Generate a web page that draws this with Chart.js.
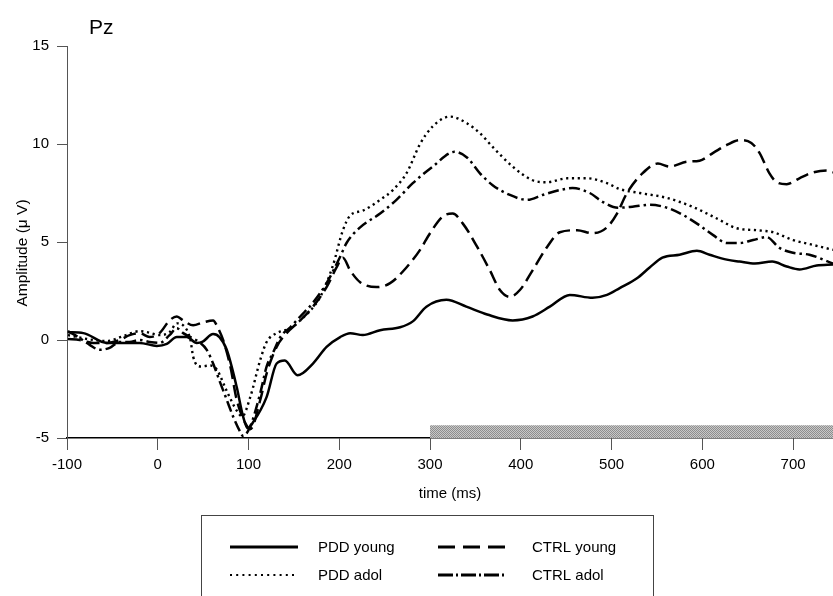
<!DOCTYPE html>
<html><head><meta charset="utf-8">
<script src="https://cdn.jsdelivr.net/npm/chart.js@4.4.0/dist/chart.umd.min.js"></script>
<style>html,body{margin:0;padding:0;background:#fff;overflow:hidden}#wrap{position:relative;width:833px;height:596px}</style>
</head><body><div id="wrap"><canvas id="c" width="833" height="596"></canvas></div>
<script>
// ---- text ----
const chartTitle = 'Pz';
const xTitle = 'time (ms)';
const yTitle = 'Amplitude (\u03bc V)';
const seriesNames = ['PDD young', 'PDD adol', 'CTRL young', 'CTRL adol'];
const xTickValues = [-100, 0, 100, 200, 300, 400, 500, 600, 700];
const yTickValues = [-5, 0, 5, 10, 15];

// ---- data (time in ms, amplitude in µV) ----
const pddYoungT = [-99,-82,-56,-38,-20,-1,10,21,32,43,49,61,68,76,87,94,99,105,120,131,140,154,171,186,201,212,226,245,267,281,296,318,340,363,391,413,432,454,479,495,509,528,542,556,575,594,608,627,641,658,677,693,707,726,744];
const pddYoungV = [0.4,0.35,-0.15,-0.15,-0.15,-0.3,-0.2,0.15,0.15,-0.15,-0.1,0.3,0.15,-0.5,-2.4,-3.9,-4.5,-4.2,-2.9,-1.2,-1.05,-1.8,-1.2,-0.35,0.15,0.35,0.25,0.5,0.65,0.95,1.7,2.05,1.7,1.3,1.0,1.2,1.7,2.3,2.15,2.3,2.65,3.15,3.7,4.2,4.35,4.55,4.35,4.1,4.0,3.9,4.0,3.75,3.6,3.8,3.85];

const pddAdolT = [-99,-71,-56,-38,-20,-12,2,13,21,28,36,39,47,58,65,76,87,93,102,113,120,131,146,157,179,193,204,212,226,245,259,274,289,303,322,341,355,369,391,413,429,451,473,495,509,531,561,589,616,638,660,678,700,722,744];
const pddAdolV = [0.25,0.0,-0.05,0.2,0.45,0.4,0.25,0.4,0.85,0.75,0.0,-0.85,-1.35,-1.3,-1.5,-2.6,-3.6,-3.9,-2.9,-1.0,-0.1,0.35,0.6,1.0,2.2,3.8,5.6,6.35,6.6,7.15,7.65,8.5,10.0,10.9,11.4,11.05,10.55,9.85,8.85,8.15,8.05,8.25,8.25,8.0,7.7,7.5,7.25,6.8,6.2,5.7,5.6,5.5,5.1,4.85,4.6];

const ctrlYoungT = [-99,-86,-71,-56,-42,-31,-20,-9,2,13,21,28,39,50,61,66,72,80,87,96,102,113,120,131,142,157,171,186,197,204,212,223,241,256,274,289,300,314,325,336,352,366,377,388,399,413,429,443,462,479,495,506,517,534,551,564,583,597,612,627,641,654,663,674,682,693,707,722,737,744];
const ctrlYoungV = [0.05,0.0,-0.15,-0.15,0.0,0.25,0.35,0.15,0.35,1.0,1.2,1.0,0.75,0.9,1.0,0.65,0.0,-1.35,-3.05,-4.2,-4.55,-3.05,-1.7,-0.35,0.35,1.0,1.7,2.7,3.7,4.2,3.55,2.95,2.7,2.9,3.7,4.6,5.45,6.3,6.45,5.95,4.75,3.55,2.55,2.2,2.55,3.55,4.75,5.5,5.6,5.45,5.75,6.45,7.5,8.5,9.0,8.85,9.1,9.15,9.55,9.95,10.2,10.05,9.55,8.5,8.05,7.95,8.25,8.55,8.65,8.55];

const ctrlAdolT = [-99,-86,-75,-64,-53,-42,-31,-20,-9,2,13,21,28,36,47,54,61,69,76,83,91,94,102,113,120,127,135,146,157,171,186,201,208,223,245,263,281,303,327,341,355,369,388,407,424,443,457,476,490,507,523,542,561,578,597,612,627,641,656,671,685,700,718,744];
const ctrlAdolV = [0.45,0.1,-0.25,-0.5,-0.4,-0.1,-0.1,0.0,-0.1,-0.15,0.25,0.6,0.35,0.15,-0.15,-0.5,-1.2,-2.2,-3.05,-3.9,-4.7,-4.9,-4.4,-2.7,-1.35,-0.65,0.15,0.65,1.2,1.9,2.9,4.25,4.95,5.75,6.45,7.15,8.0,8.85,9.6,9.3,8.5,7.9,7.4,7.15,7.4,7.65,7.75,7.5,7.05,6.75,6.8,6.9,6.75,6.4,5.85,5.35,4.95,4.95,5.1,5.25,4.7,4.45,4.35,3.9];

// significance window bar (ms) and its top level (µV)
const sigWindowT = [300, 744];
const sigWindowV = [-4.35, -4.35];

const xMin = -100, xMax = 744, yMin = -5, yMax = 15;

const FF = "'Liberation Sans', Arial, sans-serif";

function pts(T, V){ return T.map((t, i) => ({x: t, y: V[i]})); }

// stipple pattern for significance bar
function makePattern(){
  const p = document.createElement('canvas'); p.width = 2; p.height = 2;
  const g = p.getContext('2d');
  g.fillStyle = '#c8c8c8'; g.fillRect(0,0,2,2);
  g.fillStyle = '#8e8e8e'; g.fillRect(0,0,1,1); g.fillRect(1,1,1,1);
  return document.getElementById('c').getContext('2d').createPattern(p, 'repeat');
}

const styles = [
  {dash: [], width: 2.5, legendDash: [], legendWidth: 3},
  {dash: [2.2, 3.6], width: 2.4, legendDash: [2, 4.2], legendWidth: 2},
  {dash: [13, 6], width: 2.5, legendDash: [17, 8], legendWidth: 3},
  {dash: [11, 4, 2.5, 4], width: 2.5, legendDash: [15, 3, 2, 3], legendWidth: 3}
];
const seriesData = [pts(pddYoungT, pddYoungV), pts(pddAdolT, pddAdolV), pts(ctrlYoungT, ctrlYoungV), pts(ctrlAdolT, ctrlAdolV)];

const overlay = {
  id: 'overlay',
  afterDraw(chart){
    const ctx = chart.ctx;
    ctx.save();
    ctx.fillStyle = '#000';
    // title
    ctx.font = '21px ' + FF;
    ctx.textBaseline = 'alphabetic'; ctx.textAlign = 'left';
    ctx.fillText(chartTitle, 89, 34);
    // y axis title
    ctx.save();
    ctx.translate(23, 253);
    ctx.rotate(-Math.PI / 2);
    ctx.font = '15.5px ' + FF;
    ctx.textAlign = 'center'; ctx.textBaseline = 'middle';
    ctx.fillText(yTitle, 0, 0);
    ctx.restore();
    // legend box
    ctx.strokeStyle = '#444'; ctx.lineWidth = 1; ctx.setLineDash([]);
    ctx.strokeRect(201.5, 515.5, 452, 100);
    const cols = [{x0: 230, x1: 298, tx: 318}, {x0: 438, x1: 507, tx: 532}];
    const rows = [547, 575];
    const order = [[0,0,0],[2,1,0],[1,0,1],[3,1,1]]; // series, col, row
    ctx.font = '15px ' + FF;
    ctx.textBaseline = 'middle'; ctx.textAlign = 'left';
    order.forEach(([s, c, r]) => {
      const st = styles[s];
      ctx.beginPath();
      ctx.setLineDash(st.legendDash);
      ctx.lineWidth = st.legendWidth;
      ctx.strokeStyle = '#000';
      ctx.lineCap = 'butt';
      ctx.moveTo(cols[c].x0, rows[r]); ctx.lineTo(cols[c].x1, rows[r]);
      ctx.stroke();
      ctx.setLineDash([]);
      ctx.fillText(seriesNames[s], cols[c].tx, rows[r] + 1);
    });
    ctx.restore();
  }
};

const datasets = [{
  label: 'window', data: pts(sigWindowT, sigWindowV), borderWidth: 0, pointRadius: 0,
  fill: 'start', backgroundColor: makePattern(), borderColor: 'rgba(0,0,0,0)', order: 10
}].concat(seriesNames.map((n, i) => ({
  label: n, data: seriesData[i], borderColor: '#000', borderWidth: styles[i].width,
  borderDash: styles[i].dash, pointRadius: 0, fill: false, cubicInterpolationMode: 'monotone',
  borderCapStyle: 'butt', borderJoinStyle: 'round', order: i
})));

new Chart(document.getElementById('c'), {
  type: 'line',
  data: {datasets},
  options: {
    responsive: false, animation: false, devicePixelRatio: 1,
    layout: {padding: {top: 46, left: 0, right: 0, bottom: 0}},
    plugins: {legend: {display: false}, title: {display: false}, tooltip: {enabled: false}},
    scales: {
      x: {
        type: 'linear', position: 'bottom', min: xMin, max: xMax,
        afterBuildTicks: s => { s.ticks = xTickValues.map(v => ({value: v})); },
        afterFit: s => { s.height = 158; },
        ticks: {font: {family: FF, size: 15}, color: '#000', padding: 6, maxRotation: 0, includeBounds: false},
        grid: {drawOnChartArea: false, drawTicks: true, tickLength: 12, color: '#555', lineWidth: 1},
        border: {display: true, color: '#000', width: 1.5},
        title: {display: true, text: xTitle, color: '#000', font: {family: FF, size: 15}, padding: {top: 0, bottom: 93}}
      },
      y: {
        type: 'linear', min: yMin, max: yMax,
        afterBuildTicks: s => { s.ticks = yTickValues.map(v => ({value: v})); },
        afterFit: s => { s.width = 67; },
        ticks: {font: {family: FF, size: 15}, color: '#000', padding: 8},
        grid: {drawOnChartArea: false, drawTicks: true, tickLength: 10, color: '#555', lineWidth: 1},
        border: {display: true, color: '#555', width: 1},
        title: {display: false, text: yTitle}
      }
    }
  },
  plugins: [overlay]
});
</script></body></html>
